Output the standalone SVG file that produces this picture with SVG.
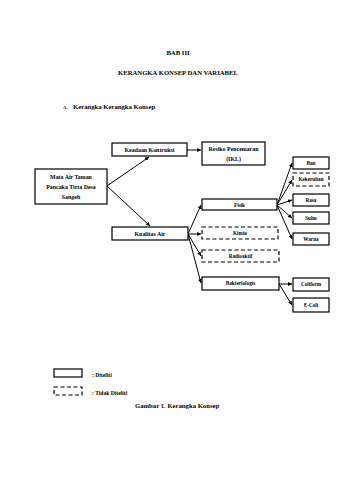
<svg xmlns="http://www.w3.org/2000/svg" width="340" height="480" viewBox="0 0 340 480">
<defs>
<marker id="ah" viewBox="0 0 10 10" refX="10" refY="5" markerWidth="4" markerHeight="4" orient="auto" markerUnits="userSpaceOnUse"><path d="M0,0 L10,5 L0,10 z" fill="#000"/></marker>
</defs>
<style>
text{font-family:"Liberation Serif","Times New Roman",serif;font-weight:bold;fill:#000}
.t{font-size:6.7px}
.n{font-size:5.9px;text-anchor:middle}
.s{font-size:5.2px;text-anchor:middle}
rect{fill:#fff;stroke:#000;stroke-width:1.2}
.d{stroke-dasharray:4,2.5}
.c line{stroke:#000;stroke-width:1;marker-end:url(#ah)}
</style>
<rect x="0" y="0" width="340" height="480" style="fill:#fff;stroke:none"/>
<text class="t" x="178" y="55" text-anchor="middle">BAB III</text>
<text class="t" x="178" y="75" text-anchor="middle">KERANGKA KONSEP DAN VARIABEL</text>
<text x="63" y="109" style="font-size:4.5px">A.</text>
<text class="t" x="73" y="109">Kerangka Kerangka Konsep</text>

<g class="c" id="connectors">
<line x1="107" y1="186" x2="149" y2="157"/>
<line x1="107" y1="186" x2="150" y2="226"/>
<line x1="187" y1="150" x2="201" y2="150"/>
<line x1="188" y1="234" x2="201" y2="205"/>
<line x1="188" y1="234" x2="201" y2="234"/>
<line x1="188" y1="234" x2="201" y2="256"/>
<line x1="188" y1="234" x2="201" y2="283"/>
<line x1="277" y1="205" x2="292" y2="163"/>
<line x1="277" y1="205" x2="292" y2="180"/>
<line x1="277" y1="205" x2="292" y2="200"/>
<line x1="277" y1="205" x2="292" y2="218"/>
<line x1="277" y1="205" x2="292" y2="239"/>
<line x1="279" y1="284" x2="292" y2="284"/>
<line x1="279" y1="284" x2="292" y2="305"/>
</g>

<g id="mata-air"><rect x="35" y="169" width="72" height="35"/>
<text class="n" x="71" y="179">Mata Air Taman</text>
<text class="n" x="71" y="189">Pancaka Tirta Desa</text>
<text class="n" x="71" y="199">Sangeh</text></g>
<g id="keadaan"><rect x="112" y="143" width="75" height="13"/><text class="n" x="149.5" y="151.5">Keadaan Kontruksi</text></g>
<g id="resiko"><rect x="202" y="142" width="63" height="23"/>
<text class="n" x="233.5" y="150.5">Resiko Pencemaran</text>
<text class="n" x="233.5" y="160.5">(IKL)</text></g>
<g id="kualitas"><rect x="112" y="227" width="76" height="13"/><text class="n" x="150" y="235.5">Kualitas  Air</text></g>
<g id="fisik"><rect x="202" y="199" width="75" height="11"/><text class="s" x="239.5" y="206.5">Fisik</text></g>
<g id="kimia"><rect class="d" x="202" y="227" width="76" height="12"/><text class="s" x="240" y="234.5">Kimia</text></g>
<g id="radioaktif"><rect class="d" x="202" y="250" width="77" height="12"/><text class="s" x="240.5" y="257.5">Radioaktif</text></g>
<g id="bakteriologis"><rect x="202" y="277" width="77" height="13"/><text class="s" x="240.5" y="285">Bakteriologis</text></g>
<g id="bau"><rect x="293" y="157" width="36" height="12"/><text class="s" x="311" y="164.5">Bau</text></g>
<g id="kekeruhan"><rect class="d" x="293" y="173" width="36" height="13"/><text class="s" x="311" y="181">Kekeruhan</text></g>
<g id="rasa"><rect x="293" y="194" width="36" height="12"/><text class="s" x="311" y="201.5">Rasa</text></g>
<g id="suhu"><rect x="293" y="212" width="36" height="12"/><text class="s" x="311" y="219.5">Suhu</text></g>
<g id="warna"><rect x="293" y="233" width="36" height="12"/><text class="s" x="311" y="240.5">Warna</text></g>
<g id="coliform"><rect x="293" y="278" width="36" height="13"/><text class="s" x="311" y="286">Coliform</text></g>
<g id="ecoli"><rect x="293" y="298" width="36" height="14"/><text class="s" x="311" y="306.5">E-Coli</text></g>

<g id="legend">
<rect x="54" y="369" width="28" height="8"/>
<text x="92" y="377" style="font-size:5.6px">: Diteliti</text>
<rect class="d" x="54" y="387" width="28" height="8"/>
<text x="92" y="395" style="font-size:5.6px">: Tidak Diteliti</text>
</g>
<text class="t" x="135" y="408">Gambar  1. Kerangka Konsep</text>
</svg>
